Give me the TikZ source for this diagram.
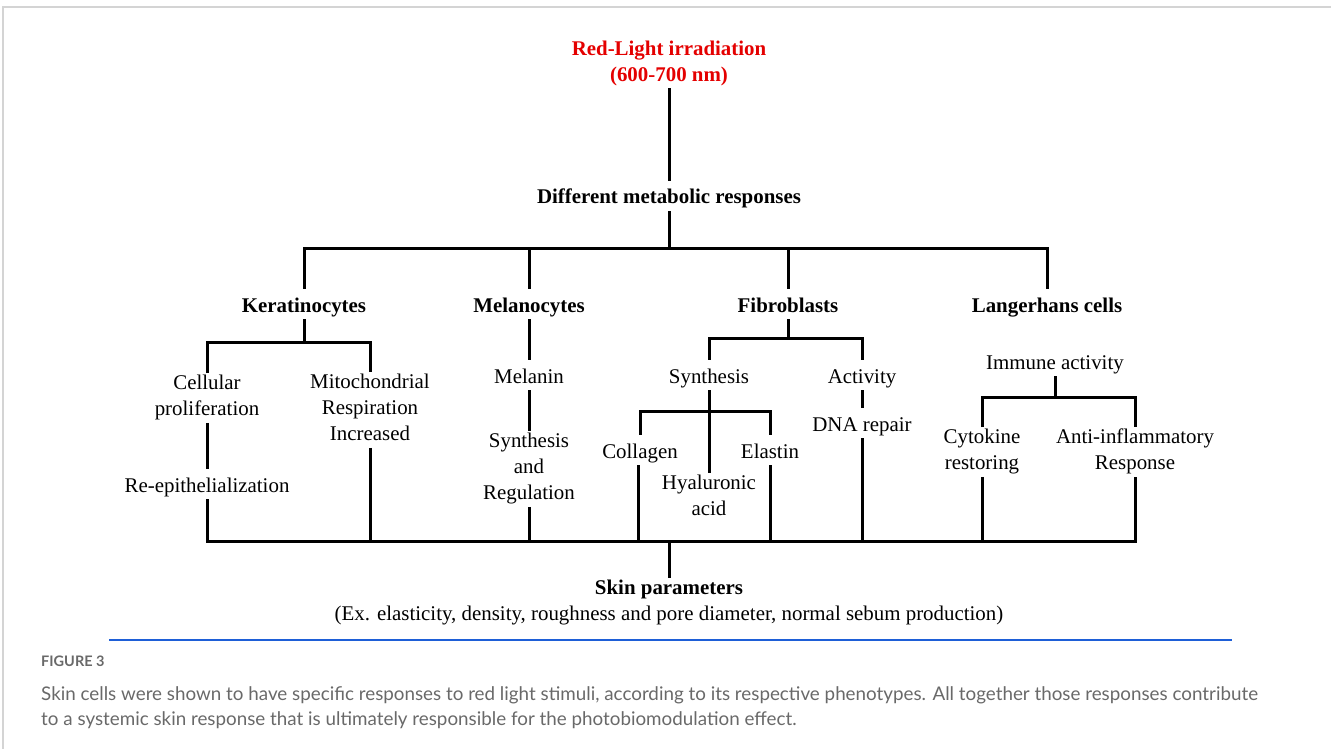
\documentclass[tikz,border=0pt]{standalone}
\usepackage{fontspec}
\setmainfont{Liberation Serif}
\newfontfamily\capfont{Lato}
\usetikzlibrary{arrows,graphs}
\definecolor{lightred}{RGB}{228,0,0}
\definecolor{capblue}{RGB}{30,95,215}
\definecolor{capgray}{RGB}{105,105,105}
\definecolor{framegray}{RGB}{212,212,212}
\newcommand{\txtstrut}{\rule[-5pt]{0pt}{26pt}}
\begin{document}
\begin{tikzpicture}[x=1pt,y=-1pt]
\tikzstyle{txt}=[align=center,inner sep=2pt,font=\fontsize{20.9}{26}\selectfont,execute at begin node=\txtstrut,execute at end node=\txtstrut]
\tikzstyle{head}=[txt,font=\fontsize{20.9}{26}\selectfont\bfseries]
\tikzstyle{link}=[line width=3pt,line join=miter]
\useasboundingbox (0,0) rectangle (1331,749);
\draw[framegray,line width=1.6pt] (3,749) -- (3,7) -- (1331,7);
\node[head,text=lightred] (red) at (669,63.5) {Red-Light irradiation\\(600-700 nm)};
\node[head] (diff) at (669,196) {Different metabolic responses};
\node[head] (kera) at (304,304) {Keratinocytes};
\node[head] (mela) at (529,304) {Melanocytes};
\node[head] (fibr) at (788,304) {Fibroblasts};
\node[head] (lang) at (1047,304) {Langerhans cells};
\node[txt] (cell) at (207,398) {Cellular\\proliferation};
\node[txt] (mito) at (370,410) {Mitochondrial\\Respiration\\Increased};
\node[txt] (reep) at (207,484) {Re-epithelialization};
\node[txt] (melanin) at (529,375) {Melanin};
\node[txt] (synreg) at (529,469) {Synthesis\\and\\Regulation};
\node[txt] (synth) at (709,375) {Synthesis};
\node[txt] (activ) at (862,375) {Activity};
\node[txt] (coll) at (640,450) {Collagen};
\node[txt] (elas) at (770,450) {Elastin};
\node[txt] (hyal) at (709,498) {Hyaluronic\\acid};
\node[txt] (dna) at (862,423) {DNA repair};
\node[txt] (immu) at (1055,361) {Immune activity};
\node[txt] (cyto) at (982,452) {Cytokine\\restoring};
\node[txt] (anti) at (1135,452) {Anti-inflammatory\\Response};
\node[txt] (skin) at (669,603) {{\bfseries Skin parameters}\\(Ex. elasticity, density, roughness and pore diameter, normal sebum production)};
\coordinate (mbus) at (669,248);
\coordinate (kbus) at (304,342);
\coordinate (fbus) at (788,338);
\coordinate (hbus) at (709,411);
\coordinate (lbus) at (1055,397);
\coordinate (sbus) at (669,541);
\draw[link] (red) -- (diff);
\draw[link] (diff) -- (mbus);
\draw[link] (kera.north) |- (mbus) -| (lang.north);
\draw[link] (mela.north) -- (mela.north |- mbus);
\draw[link] (fibr.north) -- (fibr.north |- mbus);
\draw[link] (kera) -- (kbus);
\draw[link] (cell.north) |- (kbus) -| (mito.north);
\draw[link] (cell) -- (reep);
\draw[link] (mela) -- (melanin);
\draw[link] (melanin) -- (synreg);
\draw[link] (fibr) -- (fbus);
\draw[link] (synth.north) |- (fbus) -| (activ.north);
\draw[link] (synth) -- (hyal);
\draw[link] (coll.north) |- (hbus) -| (elas.north);
\draw[link] (activ) -- (dna);
\draw[link] (immu) -- (lbus);
\draw[link] (cyto.north) |- (lbus) -| (anti.north);
\draw[link] (reep.south) |- (sbus) -| (anti.south);
\draw[link] (mito.south) -- (mito.south |- sbus);
\draw[link] (synreg.south) -- (synreg.south |- sbus);
\draw[link] ([xshift=-2pt]coll.south) -- ([xshift=-2pt]coll.south |- sbus);
\draw[link] (elas.south) -- (elas.south |- sbus);
\draw[link] (dna.south) -- (dna.south |- sbus);
\draw[link] (cyto.south) -- (cyto.south |- sbus);
\draw[link] (sbus) -- (skin);
\draw[capblue,line width=2pt] (109,640) -- (1232,640);
\node[anchor=west,inner sep=0pt,text=capgray,font=\capfont\bfseries\fontsize{14.5}{16}\selectfont] (fig) at (41,661) {FIGURE 3};
\node[anchor=north west,inner sep=0pt,align=left,text=capgray,font=\capfont\fontsize{18.8}{25}\selectfont] (capt) at (41,686) {Skin cells were shown to have specific responses to red light stimuli, according to its respective phenotypes. All together those responses contribute\\to a systemic skin response that is ultimately responsible for the photobiomodulation effect.};
\end{tikzpicture}
\end{document}
